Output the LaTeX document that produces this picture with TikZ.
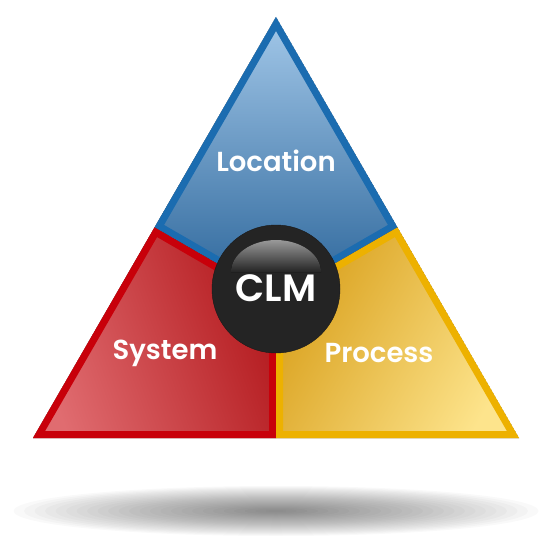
\documentclass[tikz,border=0pt]{standalone}
\usepackage{fontspec}
\setmainfont{Poppins}[BoldFont={Poppins SemiBold}]
\definecolor{locborder}{HTML}{1B6CB0}
\definecolor{loctop}{HTML}{A3C8E9}
\definecolor{locbot}{HTML}{2A6499}
\definecolor{sysborder}{HTML}{C8000A}
\definecolor{syslight}{HTML}{E06C70}
\definecolor{sysdark}{HTML}{B3191D}
\definecolor{proborder}{HTML}{EDB100}
\definecolor{prodark}{HTML}{D9A01C}
\definecolor{prolight}{HTML}{FDE48C}
\definecolor{clmfill}{HTML}{242424}
\begin{document}
\begin{tikzpicture}[x=1pt,y=-1pt,
    region/.style={line width=14pt,line join=miter},
    regiontext/.style={text=white,font=\fontsize{27.5}{32}\selectfont\bfseries}]
    \useasboundingbox (0,0) rectangle (545,535);

    % shadow under the triangle
    \foreach \k in {1,...,25}
        \fill[black,opacity=0.022] (276,511) ellipse ({10.5*\k} and {1.0*\k});

    \coordinate (top) at (276,17);
    \coordinate (bl) at (33,438);
    \coordinate (br) at (519,438);
    \coordinate (ml) at (154.5,227.5);
    \coordinate (mr) at (397.5,227.5);
    \coordinate (mb) at (276,438);
    \coordinate (c) at (276,297.7);

    % Location
    \begin{scope}
        \clip (top) -- (ml) -- (c) -- (mr) -- cycle;
        \fill[top color=loctop,bottom color=locbot] (top) -- (ml) -- (c) -- (mr) -- cycle;
        \draw[region,locborder] (top) -- (ml) -- (c) -- (mr) -- cycle;
    \end{scope}

    % System
    \begin{scope}
        \clip (ml) -- (bl) -- (mb) -- (c) -- cycle;
        \fill[left color=syslight,right color=sysdark,shading angle=110] (ml) -- (bl) -- (mb) -- (c) -- cycle;
        \draw[region,sysborder] (ml) -- (bl) -- (mb) -- (c) -- cycle;
    \end{scope}

    % Process
    \begin{scope}
        \clip (mr) -- (c) -- (mb) -- (br) -- cycle;
        \fill[left color=prodark,right color=prolight,shading angle=60] (mr) -- (c) -- (mb) -- (br) -- cycle;
        \draw[region,proborder] (mr) -- (c) -- (mb) -- (br) -- cycle;
    \end{scope}

    \node[regiontext] (location) at (276,161) {Location};
    \node[regiontext] (system) at (165,353) {System};
    \node[regiontext] (process) at (379,353) {Process};

    % CLM ball
    \node[circle,fill=clmfill,draw=black!90,minimum size=128pt,inner sep=0pt] (ball) at (276,289) {};
    \fill[top color=black!40,bottom color=clmfill] (231,272) arc (180:360:45 and 32) -- cycle;
    \node[text=white,font=\fontsize{38}{42}\selectfont\bfseries] (clm) at (276,288) {CLM};
\end{tikzpicture}
\end{document}
